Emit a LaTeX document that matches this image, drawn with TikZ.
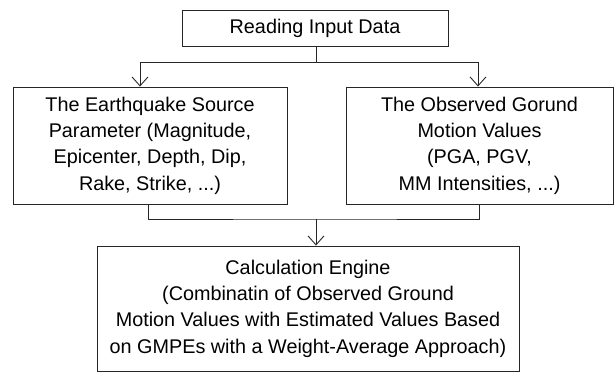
\documentclass[tikz,border=0pt]{standalone}
\usepackage{fontspec}
\setmainfont{Liberation Sans}
\usetikzlibrary{arrows.meta}
\begin{document}
\begin{tikzpicture}[x=1pt,y=1pt,
  box/.style={draw=black!85, line width=0.9pt, inner sep=0pt, align=center,
    font=\fontsize{19.8pt}{26.3pt}\selectfont},
  conn/.style={draw=black!85, line width=0.9pt},
  arr/.style={conn, -{Straight Barb[length=9pt,width=16pt,line width=0.9pt]}}]
\useasboundingbox (0,0) rectangle (615,372);
\node[box, minimum width=266pt, minimum height=36pt] (top) at (315,344) {Reading Input Data};
\node[box, minimum width=274pt, minimum height=117pt] (left) at (150,226.5)
  {The Earthquake Source\\Parameter (Magnitude,\\Epicenter, Depth, Dip,\\Rake, Strike, ...)};
\node[box, minimum width=267pt, minimum height=117pt] (right) at (479.5,226.5)
  {The Observed Gorund\\Motion Values\\(PGA, PGV,\\MM Intensities, ...)};
\node[box, minimum width=422pt, minimum height=125pt] (bot) at (308,63.5)
  {Calculation Engine\\(Combinatin of Observed Ground\\Motion Values with Estimated Values Based\\on GMPEs with a Weight-Average Approach)};
\coordinate (hy1) at (0,310);
\coordinate (hy2) at (0,153);
\coordinate (vx) at (316,0);
\coordinate (j1) at (vx |- hy1);
\coordinate (j2) at (vx |- hy2);
\draw[conn] (vx |- top.south) -- (j1);
\draw[arr] (j1) -| ([xshift=-10pt]left.north);
\draw[arr] (j1) -| ([xshift=-1.5pt]right.north);
\draw[conn] ([xshift=-2pt]left.south) |- (j2) -| ([xshift=-0.5pt]right.south);
\draw[arr] (j2) -- (vx |- bot.north);
\end{tikzpicture}
\end{document}
